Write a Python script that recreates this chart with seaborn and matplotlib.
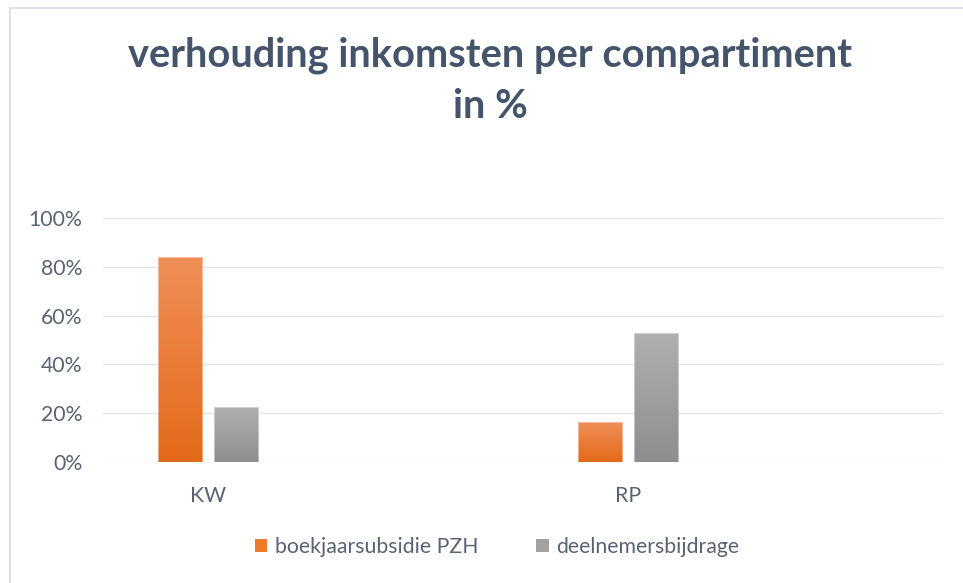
import numpy as np
import pandas as pd
import matplotlib
matplotlib.use("Agg")
import matplotlib.pyplot as plt
from matplotlib.patches import Patch, Rectangle
from matplotlib.colors import LinearSegmentedColormap, to_rgba
import seaborn as sns

# ---- data ----
categories = ["KW", "RP"]
series_names = ["boekjaarsubsidie PZH", "deelnemersbijdrage"]
subsidie_pzh = [0.84, 0.163]
deelnemersbijdrage = [0.224, 0.53]
y_ticks = [0.0, 0.2, 0.4, 0.6, 0.8, 1.0]
title_text = "verhouding inkomsten per compartiment\nin %"

# category slots as in the source chart (two empty slots)
slot_order = ["KW", " ", "RP", "  "]

df = pd.DataFrame({
    "cat": categories * 2,
    "serie": [series_names[0]] * len(categories) + [series_names[1]] * len(categories),
    "val": subsidie_pzh + deelnemersbijdrage,
})

sns.set_theme(style="white")
plt.rcParams["font.family"] = ["Lato", "DejaVu Sans"]

text_col = "#5A6373"
title_col = "#44546A"
palette = {series_names[0]: "#EE7A2C", series_names[1]: "#A2A2A2"}
grads = {
    series_names[0]: ("#F08E58", "#E36A18"),
    series_names[1]: ("#B0B0B0", "#8E8E8E"),
}

fig = plt.figure(figsize=(9.63, 5.83), dpi=100)
ax = fig.add_axes([103 / 963, 1 - 462 / 583, (943 - 103) / 963, (462 - 218) / 583])

sns.barplot(data=df, x="cat", y="val", hue="serie", order=slot_order,
            hue_order=series_names, palette=palette, width=0.533, gap=0.21,
            legend=False, ax=ax, edgecolor="none", linewidth=0)

ax.set_ylim(0, 1.0)
ax.set_xlim(-0.5, 3.5)
for patch in list(ax.patches):
    if patch.get_height() <= 0:
        continue
    fc = patch.get_facecolor()
    name = min(series_names,
               key=lambda n: sum(abs(a - b) for a, b in zip(to_rgba(palette[n]), fc)))
    top, bottom = grads[name]
    x0, y0 = patch.get_x(), patch.get_y()
    w, h = patch.get_width(), patch.get_height()
    cmap = LinearSegmentedColormap.from_list("g", [bottom, top])
    grad = np.linspace(0, 1, 256).reshape(-1, 1)
    im = ax.imshow(grad, cmap=cmap, origin="lower", aspect="auto",
                   extent=(x0, x0 + w, y0, y0 + h), zorder=3)
    im.set_clip_path(patch)
    patch.set_zorder(3)
    ax.add_patch(Rectangle((x0, y0), w, h, fill=False, edgecolor="white",
                           linewidth=0.6, alpha=0.5, zorder=4))
ax.set_xlim(-0.5, 3.5)
ax.set_ylim(0, 1.0)

ax.set_yticks(y_ticks)
ax.set_yticklabels([f"{int(round(t * 100))}%" for t in y_ticks])
ax.yaxis.grid(True, color="#E1E5EA", linewidth=1.0)
ax.set_axisbelow(True)
for s in ax.spines.values():
    s.set_visible(False)
ax.tick_params(axis="y", length=0, pad=15, labelsize=15.3, labelcolor=text_col)
ax.tick_params(axis="x", length=0, pad=17, labelsize=15.3, labelcolor=text_col)
ax.set_xlabel("")
ax.set_ylabel("")

fig.text(0.509, 1 - 81 / 583, title_text, ha="center", va="center",
         fontsize=28.7, fontweight="bold", color=title_col, linespacing=1.45)

handles = [Patch(facecolor=palette[n], edgecolor="none") for n in series_names]
leg = fig.legend(handles, series_names, loc="center", bbox_to_anchor=(0.516, 1 - 547 / 583),
                 ncol=2, frameon=False, fontsize=15.3, handlelength=0.6, handleheight=0.6,
                 handletextpad=0.35, columnspacing=2.7)
for t in leg.get_texts():
    t.set_color(text_col)

# chart frame (top and left edges visible in the crop)
fig.patches.append(Rectangle((10 / 963, -0.1), 1.2, 1 - 8 / 583 + 0.1,
                             transform=fig.transFigure, fill=False,
                             edgecolor="#DCE1E8", linewidth=1.5))

fig.savefig("out.png", dpi=100)
